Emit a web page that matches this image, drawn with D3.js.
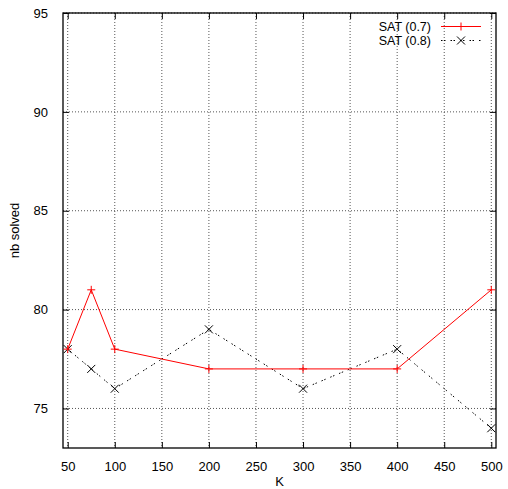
<!DOCTYPE html>
<html>
<head>
<meta charset="utf-8">
<script src="https://cdn.jsdelivr.net/npm/d3@7"></script>
<style>
  body { margin: 0; background: #fff; }
  text { font-family: "Liberation Sans", Arial, sans-serif; font-size: 13px; fill: #000; }
</style>
</head>
<body>
<div id="chart"></div>
<script>
// data
const kValues = [50, 75, 100, 200, 300, 400, 500];
const sat07 = [78, 81, 78, 77, 77, 77, 81];
const sat08 = [78, 77, 76, 79, 76, 78, 74];
const xTicks = [50, 100, 150, 200, 250, 300, 350, 400, 450, 500];
const yTicks = [75, 80, 85, 90, 95];

const W = 508, H = 489;
const plotL = 63, plotR = 496, plotT = 13, plotB = 448;

const svg = d3.select("#chart").append("svg")
    .attr("width", W)
    .attr("height", H);

const x = d3.scaleLinear().domain([45, 505]).range([plotL, plotR]);
const y = d3.scaleLinear().domain([73, 95]).range([plotB, plotT]);

// grid
svg.append("g").selectAll("line").data(xTicks).enter().append("line")
    .attr("x1", d => x(d)).attr("x2", d => x(d))
    .attr("y1", plotT).attr("y2", plotB)
    .attr("stroke", "#555").attr("stroke-width", 1)
    .attr("stroke-dasharray", "1,2");
svg.append("g").selectAll("line").data(yTicks).enter().append("line")
    .attr("x1", plotL).attr("x2", plotR)
    .attr("y1", d => y(d)).attr("y2", d => y(d))
    .attr("stroke", "#555").attr("stroke-width", 1)
    .attr("stroke-dasharray", "1,2");

// axes (gnuplot style: ticks inside, mirrored)
const tl = 6;
svg.append("g")
    .attr("transform", `translate(0,${plotB})`)
    .call(d3.axisBottom(x).tickValues(xTicks).tickSize(-tl).tickPadding(tl + 8))
    .call(g => g.select(".domain").remove());
svg.append("g")
    .attr("transform", `translate(0,${plotT})`)
    .call(d3.axisTop(x).tickValues(xTicks).tickSize(-tl).tickFormat(""))
    .call(g => g.select(".domain").remove());
svg.append("g")
    .attr("transform", `translate(${plotL},0)`)
    .call(d3.axisLeft(y).tickValues(yTicks).tickSize(-tl).tickPadding(tl + 9))
    .call(g => g.select(".domain").remove());
svg.append("g")
    .attr("transform", `translate(${plotR},0)`)
    .call(d3.axisRight(y).tickValues(yTicks).tickSize(-tl).tickFormat(""))
    .call(g => g.select(".domain").remove());

svg.selectAll(".tick text")
    .style("font-family", "'Liberation Sans', Arial, sans-serif")
    .style("font-size", "13px").attr("fill", "#000");
svg.selectAll(".tick line").attr("stroke", "#000");

svg.append("rect")
    .attr("x", plotL).attr("y", plotT)
    .attr("width", plotR - plotL).attr("height", plotB - plotT)
    .attr("fill", "none").attr("stroke", "#000").attr("stroke-width", 1.3);

// axis titles
svg.append("text")
    .attr("x", (plotL + plotR) / 2).attr("y", 486)
    .attr("text-anchor", "middle").text("K");
svg.append("text")
    .attr("transform", `translate(19,${(plotT + plotB) / 2}) rotate(-90)`)
    .attr("text-anchor", "middle").text("nb solved");

const line = d3.line().x(d => x(d[0])).y(d => y(d[1]));
const pts07 = kValues.map((k, i) => [k, sat07[i]]);
const pts08 = kValues.map((k, i) => [k, sat08[i]]);

function plus(g, cx, cy, color) {
    g.append("path")
        .attr("d", `M${cx - 4},${cy}H${cx + 4}M${cx},${cy - 4}V${cy + 4}`)
        .attr("stroke", color).attr("stroke-width", 1);
}
function cross(g, cx, cy, color) {
    g.append("path")
        .attr("d", `M${cx - 4},${cy - 4}L${cx + 4},${cy + 4}M${cx - 4},${cy + 4}L${cx + 4},${cy - 4}`)
        .attr("stroke", color).attr("stroke-width", 1);
}

const dash08 = "1.5,1.5,1.5,5";

// SAT (0.8)
svg.append("path").datum(pts08)
    .attr("d", line).attr("fill", "none")
    .attr("stroke", "#000").attr("stroke-width", 1)
    .attr("stroke-dasharray", dash08);
const m08 = svg.append("g");
pts08.forEach(p => cross(m08, x(p[0]), y(p[1]), "#000"));

// SAT (0.7)
svg.append("path").datum(pts07)
    .attr("d", line).attr("fill", "none")
    .attr("stroke", "#f00").attr("stroke-width", 1);
const m07 = svg.append("g");
pts07.forEach(p => plus(m07, x(p[0]), y(p[1]), "#f00"));

// legend
const legend = svg.append("g");
legend.append("text").attr("x", 431).attr("y", 31).attr("text-anchor", "end")
    .style("font-size", "12.5px").text("SAT (0.7)");
legend.append("line").attr("x1", 441).attr("x2", 481).attr("y1", 26.5).attr("y2", 26.5)
    .attr("stroke", "#f00").attr("stroke-width", 1);
plus(legend, 461, 26.5, "#f00");
legend.append("text").attr("x", 431).attr("y", 45).attr("text-anchor", "end")
    .style("font-size", "12.5px").text("SAT (0.8)");
legend.append("line").attr("x1", 441).attr("x2", 481).attr("y1", 40.5).attr("y2", 40.5)
    .attr("stroke", "#000").attr("stroke-width", 1).attr("stroke-dasharray", dash08);
cross(legend, 461, 40.5, "#000");
</script>
</body>
</html>
